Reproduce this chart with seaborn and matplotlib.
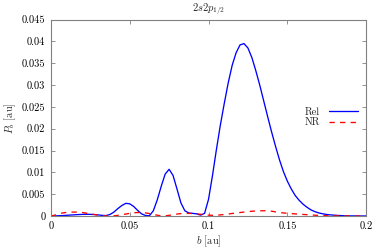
import numpy as np
import pandas as pd
import matplotlib
matplotlib.use('Agg')
import matplotlib.pyplot as plt
import seaborn as sns

# impact parameter grid [au]
b_vals = [
    0.0, 0.0025, 0.005, 0.0075, 0.01, 0.0125, 0.015, 0.0175, 0.02, 0.0225,
    0.025, 0.0275, 0.03, 0.0325, 0.035, 0.0375, 0.04, 0.0425, 0.045, 0.0475,
    0.05, 0.0525, 0.055, 0.0575, 0.06, 0.0625, 0.065, 0.0675, 0.07, 0.0725,
    0.075, 0.0775, 0.08, 0.0825, 0.085, 0.0875, 0.09, 0.0925, 0.095, 0.0975,
    0.1, 0.1025, 0.105, 0.1075, 0.11, 0.1125, 0.115, 0.1175, 0.12, 0.1225,
    0.125, 0.1275, 0.13, 0.1325, 0.135, 0.1375, 0.14, 0.1425, 0.145, 0.1475,
    0.15, 0.1525, 0.155, 0.1575, 0.16, 0.1625, 0.165, 0.1675, 0.17, 0.1725,
    0.175, 0.1775, 0.18, 0.1825, 0.185, 0.1875, 0.19, 0.1925, 0.195, 0.1975,
    0.2,
]

# relativistic probability
p_rel = [
    0.0, 0.00002, 0.00006, 0.0001, 0.00016, 0.00022, 0.00028, 0.00033, 0.00037, 0.00039,
    0.00038, 0.00033, 0.00025, 0.00015, 0.0001, 0.00035, 0.0009, 0.0017, 0.0024, 0.0029,
    0.0028, 0.0022, 0.0013, 0.0005, 0.00012, 0.00005, 0.0012, 0.0037, 0.0068, 0.0096,
    0.0107, 0.0093, 0.0062, 0.003, 0.0012, 0.0007, 0.0006, 0.0005, 0.0002, 0.0006,
    0.0038, 0.0092, 0.0152, 0.0208, 0.0258, 0.0305, 0.0345, 0.0374, 0.0392, 0.0395,
    0.0385, 0.0363, 0.0333, 0.03, 0.0264, 0.0228, 0.0193, 0.016, 0.0129, 0.0102,
    0.008, 0.0062, 0.0047, 0.0036, 0.0027, 0.002, 0.0014, 0.001, 0.0007, 0.0005,
    0.00035, 0.00025, 0.00018, 0.00012, 0.00008, 0.00005, 0.00003, 0.00002, 0.00001, 0.00001,
    0.0,
]

# non-relativistic probability
p_nr = [
    0.0, 0.0002, 0.0005, 0.0007, 0.00082, 0.00088, 0.0009, 0.00088, 0.0008, 0.00065,
    0.0005, 0.00035, 0.0002, 0.0001, 0.00003, 0.0, 0.00005, 0.00015, 0.0003, 0.00045,
    0.0006, 0.00072, 0.0008, 0.0008, 0.00072, 0.00055, 0.00035, 0.00018, 0.00006, 0.00005,
    0.00015, 0.0003, 0.00045, 0.00055, 0.0006, 0.0006, 0.00055, 0.00048, 0.0004, 0.0003,
    0.0002, 0.00015, 0.00018, 0.00025, 0.00035, 0.00045, 0.00058, 0.0007, 0.0008, 0.0009,
    0.001, 0.0011, 0.00115, 0.0012, 0.0012, 0.00118, 0.0011, 0.00095, 0.00082, 0.0007,
    0.00062, 0.00055, 0.00048, 0.00042, 0.00036, 0.0003, 0.00024, 0.00018, 0.00013, 0.0001,
    0.00007, 0.00005, 0.00003, 0.00002, 0.00001, 0.00001, 0.0, 0.0, 0.0, 0.0,
    0.0,
]

x_ticks = [0, 0.05, 0.1, 0.15, 0.2]
x_tick_labels = ['0', '0.05', '0.1', '0.15', '0.2']
y_ticks = [0, 0.005, 0.01, 0.015, 0.02, 0.025, 0.03, 0.035, 0.04, 0.045]
y_tick_labels = ['0', '0.005', '0.01', '0.015', '0.02', '0.025', '0.03', '0.035', '0.04', '0.045']

sns.set_style('ticks')
plt.rcParams['font.family'] = ['cmr10', 'DejaVu Serif']
plt.rcParams['mathtext.fontset'] = 'cm'
plt.rcParams['axes.unicode_minus'] = False
plt.rcParams['axes.formatter.use_mathtext'] = True

df = pd.DataFrame({'b': b_vals, 'Rel': p_rel, 'NR': p_nr})

fig = plt.figure(figsize=(3.74, 2.48), dpi=100)
ax = fig.add_axes([0.136, 0.129, 0.843, 0.792])

sns.lineplot(data=df, x='b', y='Rel', ax=ax, color='#0000ff', lw=0.95,
             label='Rel', estimator=None)
sns.lineplot(data=df, x='b', y='NR', ax=ax, color='#ff0000', lw=0.95,
             label='NR', estimator=None)
ax.lines[1].set_dashes([4, 4])

ax.set_xlim(0, 0.2)
ax.set_ylim(0, 0.045)
ax.set_xticks(x_ticks)
ax.set_xticklabels(x_tick_labels)
ax.set_yticks(y_ticks)
ax.set_yticklabels(y_tick_labels)
ax.tick_params(direction='in', length=3, width=0.6, colors='#808080',
               labelcolor='black', labelsize=7.5, top=True, right=True, pad=4)
for s in ax.spines.values():
    s.set_color('#808080')
    s.set_linewidth(0.8)

ax.set_xlabel('$b$ [au]', fontsize=7.5, labelpad=2)
ax.set_ylabel('$P_b$ [au]', fontsize=7.5, labelpad=3)
ax.set_title('$2s2p_{1/2}$', fontsize=7.5, pad=6)

leg = ax.legend(loc='upper right', bbox_to_anchor=(0.99, 0.58), frameon=False,
                markerfirst=False, fontsize=7.5, handlelength=2.8, handletextpad=0.8,
                labelspacing=0.1, borderpad=0)
leg.get_lines()[1].set_dashes([4, 4])

fig.savefig('out.png', dpi=100)
